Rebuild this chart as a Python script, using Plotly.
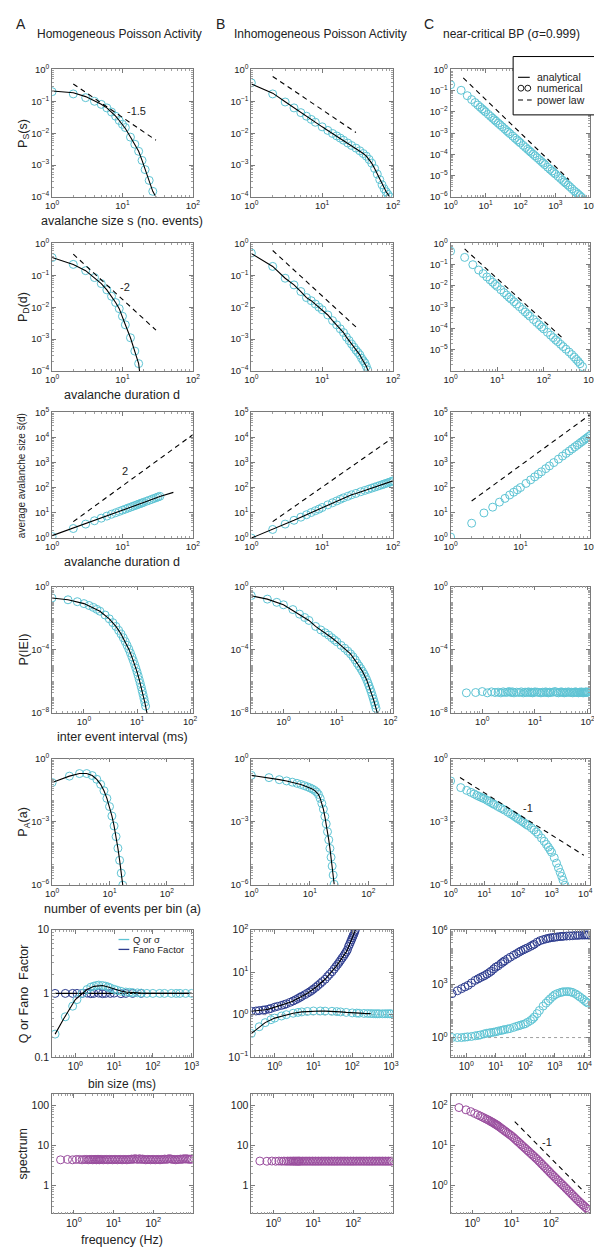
import math
import plotly.graph_objects as go

# ===================== DATA =====================
# ---- Row 1: avalanche size distribution P_S(s)
s_hom = [1, 2, 3, 4, 5, 6, 7, 8, 9, 10, 11, 13, 15, 17, 19, 21, 24, 27]
ps_hom = [0.2, 0.17, 0.13, 0.1, 0.08, 0.062, 0.046, 0.034, 0.025, 0.019, 0.015, 0.0075, 0.0045, 0.0027, 0.0014, 0.00072, 0.00033, 0.00015]
s_hom_fit = [1, 2, 3, 4, 5, 6, 7, 8, 9, 10, 11, 13, 15, 17, 19, 21, 24, 27, 30]
ps_hom_fit = [0.21, 0.185, 0.14, 0.105, 0.081, 0.062, 0.046, 0.034, 0.025, 0.019, 0.014, 0.0076, 0.0045, 0.0027, 0.0014, 0.00072, 0.00033, 0.00015, 0.0001]
s_hom_pl = [2, 30]
ps_hom_pl = [0.35, 0.006]

s_inh = [1, 2, 3, 4, 5, 6, 7, 8, 10, 12, 14, 16, 18, 20, 23, 26, 30, 34, 38, 42, 46, 50, 55, 60, 65, 70, 75, 80, 85, 90]
ps_inh = [0.38, 0.17, 0.095, 0.062, 0.044, 0.034, 0.027, 0.022, 0.0158, 0.0122, 0.0098, 0.0082, 0.007, 0.006, 0.0049, 0.0041, 0.0034, 0.0028, 0.0023, 0.0019, 0.0015, 0.00115, 0.00078, 0.00052, 0.00035, 0.00024, 0.00018, 0.000145, 0.00012, 0.0001]
ps_inh_fit = [0.35, 0.18, 0.097, 0.062, 0.044, 0.034, 0.027, 0.022, 0.0158, 0.0122, 0.0098, 0.0082, 0.007, 0.006, 0.0049, 0.0041, 0.0034, 0.0028, 0.0023, 0.0019, 0.0015, 0.00115, 0.00078, 0.00052, 0.00035, 0.00024, 0.00018, 0.000145, 0.00012, 0.0001]
s_inh_pl = [2, 30]
ps_inh_pl = [0.6, 0.0105]

s_bp = [1, 2, 3, 4, 5, 6, 7, 8, 9, 10, 12, 14, 16, 18, 20, 23, 26, 30, 35, 40, 45, 50, 60, 70, 80, 90, 100, 120, 140, 160, 180, 200, 230, 260, 300, 350, 400, 450, 500, 600, 700, 800, 900, 1000, 1200, 1400, 1600, 1800, 2000, 2300, 2600, 3000, 3500, 4000, 4500, 5000, 5700]
ps_bp = [0.19, 0.104, 0.058, 0.038, 0.0275, 0.0211, 0.0168, 0.0138, 0.0117, 0.01, 0.00766, 0.00612, 0.00504, 0.00424, 0.00363, 0.00296, 0.00248, 0.00201, 0.00161, 0.00132, 0.00111, 0.00095, 0.00073, 0.00058, 0.00048, 0.000405, 0.000347, 0.000265, 0.000212, 0.000175, 0.000147, 0.000126, 0.000103, 8.6e-5, 7.0e-5, 5.6e-5, 4.6e-5, 3.9e-5, 3.3e-5, 2.5e-5, 2.0e-5, 1.66e-5, 1.4e-5, 1.2e-5, 9.2e-6, 7.4e-6, 6.1e-6, 5.1e-6, 4.4e-6, 3.6e-6, 3.0e-6, 2.4e-6, 1.9e-6, 1.6e-6, 1.34e-6, 1.15e-6, 0.95e-6]
s_bp_pl = [2.3, 2450]
ps_bp_pl = [0.4, 6.5e-6]

# ---- Row 2: avalanche duration distribution P_D(d)
d_hom = [1, 2, 3, 4, 5, 6, 7, 8, 9, 10, 11, 13, 15, 17]
pd_hom = [0.36, 0.22, 0.14, 0.085, 0.055, 0.035, 0.022, 0.014, 0.009, 0.0052, 0.0028, 0.0011, 0.00042, 0.00017]
d_hom_fit = [1, 2, 3, 4, 5, 6, 7, 8, 9, 10, 11, 13, 15, 17, 17.5]
pd_hom_fit = [0.36, 0.22, 0.14, 0.085, 0.055, 0.035, 0.022, 0.014, 0.009, 0.0052, 0.0028, 0.0011, 0.00042, 0.00017, 0.0001]
d_hom_pl = [2, 30]
pd_hom_pl = [0.46, 0.0019]

d_inh = [1, 2, 3, 4, 5, 6, 7, 8, 9, 10, 12, 14, 16, 18, 20, 22, 24, 26, 28, 30, 32, 34, 36, 38, 40, 42, 44]
pd_inh = [0.5, 0.19, 0.081, 0.05, 0.031, 0.02, 0.016, 0.0126, 0.01, 0.0083, 0.0057, 0.0038, 0.0028, 0.0021, 0.0016, 0.00115, 0.0009, 0.0007, 0.00056, 0.00045, 0.00038, 0.00032, 0.00025, 0.00021, 0.00018, 0.00014, 0.000107]
d_inh_fit = [1, 2, 3, 4, 5, 6, 7, 8, 9, 10, 12, 14, 16, 18, 20, 22, 24, 26, 28, 30, 32, 34, 36, 38, 40, 42, 44, 45]
pd_inh_fit = [0.48, 0.19, 0.081, 0.05, 0.031, 0.02, 0.016, 0.0126, 0.01, 0.0083, 0.0057, 0.0038, 0.0028, 0.0021, 0.0016, 0.00115, 0.0009, 0.0007, 0.00056, 0.00045, 0.00038, 0.00032, 0.00025, 0.00021, 0.00018, 0.00014, 0.000107, 0.0001]
d_inh_pl = [2, 30]
pd_inh_pl = [0.6, 0.0024]

d_bp = [1, 2, 3, 4, 5, 6, 7, 8, 9, 10, 12, 14, 16, 18, 20, 23, 26, 30, 35, 40, 45, 50, 60, 70, 80, 90, 100, 120, 140, 160, 180, 200, 230, 260, 300, 350, 400, 450, 500, 550, 600, 680]
pd_bp = [0.43, 0.22, 0.1, 0.056, 0.038, 0.0264, 0.0194, 0.0149, 0.0117, 0.0095, 0.0066, 0.00485, 0.0037, 0.0029, 0.00238, 0.0018, 0.0014, 0.00106, 0.00078, 0.00059, 0.00047, 0.00038, 0.000264, 0.000194, 0.000149, 0.000117, 9.5e-5, 6.6e-5, 4.85e-5, 3.7e-5, 2.9e-5, 2.4e-5, 1.8e-5, 1.4e-5, 1.06e-5, 7.8e-6, 5.9e-6, 4.5e-6, 3.5e-6, 2.8e-6, 2.2e-6, 1.6e-6]
d_bp_pl = [2, 275]
pd_bp_pl = [0.55, 3.0e-5]

# ---- Row 3: average avalanche size vs duration
d3_hom = [1, 2, 3, 4, 5, 6, 7, 8, 9, 10, 11, 12, 13, 14, 15, 16, 17, 18, 19, 20, 22, 24, 26, 28, 30, 32, 34]
sd_hom = [1.15, 2.4, 3.6, 4.9, 6.2, 7.5, 8.9, 10.2, 11.5, 12.9, 14.2, 15.6, 16.9, 18.3, 19.6, 21.0, 22.4, 23.7, 25.1, 26.5, 29.3, 32.0, 34.8, 37.6, 40.4, 43.2, 46.0]
d3_hom_fit = [1, 2, 5, 10, 20, 34, 53]
sd_hom_fit = [1.25, 2.5, 6.1, 12.6, 26, 45, 66]
d3_hom_pl = [2, 100]
sd_hom_pl = [4.5, 13000]

d3_inh = [1, 2, 3, 4, 5, 6, 7, 8, 9, 10, 12, 14, 16, 18, 20, 23, 26, 30, 35, 40, 45, 50, 55, 60, 65, 70, 75, 80, 85, 90, 95, 100]
sd_inh = [1.0, 2.2, 3.6, 5.1, 6.8, 8.5, 10.4, 12.3, 14.2, 16.5, 21, 25.5, 30, 35, 40, 46, 53, 60, 70, 79, 88, 97, 106, 115, 124, 133, 142, 151, 160, 169, 178, 190]
d3_inh_pl = [2, 100]
sd_inh_pl = [4.5, 10000]

d3_bp = [1, 2, 3, 4, 5, 6, 7, 8, 9, 10, 12, 14, 16, 18, 20, 23, 26, 30, 35, 40, 45, 50, 55, 60, 65, 70, 75, 80, 85, 90, 95, 100]
sd_bp = [1.1, 3.9, 10, 17, 27, 38, 52, 67, 84, 103, 150, 208, 274, 350, 436, 582, 749, 1013, 1395, 1844, 2350, 2930, 3570, 4270, 5040, 5880, 6780, 7750, 8790, 9890, 11060, 12300]
d3_bp_pl = [2, 100]
sd_bp_pl = [30, 83000]

# ---- Row 4: inter event interval distribution
iei_hom = [0.25, 0.5, 0.75, 1, 1.25, 1.5, 1.75, 2, 2.5, 3, 3.5, 4, 4.5, 5, 5.5, 6, 6.5, 7, 7.5, 8, 8.5, 9, 9.5, 10, 10.5, 11, 11.5, 12, 12.5, 13, 13.5, 14, 14.5]
piei_hom = [0.19, 0.145, 0.11, 0.083, 0.063, 0.048, 0.036, 0.0275, 0.0158, 0.0091, 0.0052, 0.003, 0.0017, 0.001, 5.8e-4, 3.3e-4, 1.9e-4, 1.1e-4, 6.3e-5, 3.6e-5, 2.1e-5, 1.2e-5, 6.9e-6, 4.0e-6, 2.3e-6, 1.3e-6, 7.6e-7, 4.4e-7, 2.5e-7, 1.45e-7, 8.3e-8, 4.8e-8, 2.75e-8]
iei_hom_fit = [0.25, 0.5, 1, 2, 3, 4, 5, 6, 7, 8, 9, 10, 11, 12, 13, 14, 15.4]
piei_hom_fit = [0.19, 0.145, 0.083, 0.0275, 0.0091, 0.003, 0.001, 3.3e-4, 1.1e-4, 3.6e-5, 1.2e-5, 4.0e-6, 1.3e-6, 4.4e-7, 1.45e-7, 4.8e-8, 1e-8]

iei_inh = [0.25, 0.5, 0.75, 1, 1.5, 2, 2.5, 3, 4, 5, 6, 7, 8, 9, 10, 12, 14, 16, 18, 20, 22, 24, 26, 28, 30, 32, 34, 36, 38, 40, 42, 44, 46, 48, 50, 52, 54]
piei_inh = [0.27, 0.16, 0.1, 0.07, 0.035, 0.018, 0.011, 0.0072, 0.003, 0.0018, 0.0012, 0.00085, 0.00058, 0.00042, 0.00032, 0.00019, 0.000125, 8.2e-5, 5.5e-5, 3.6e-5, 2.3e-5, 1.4e-5, 9.5e-6, 6.5e-6, 4.4e-6, 3.0e-6, 2.0e-6, 1.3e-6, 8.2e-7, 5.2e-7, 3.3e-7, 2.1e-7, 1.3e-7, 8e-8, 5e-8, 3.2e-8, 2e-8]
iei_inh_fit = [0.25, 0.5, 1, 2, 3, 4, 6, 8, 10, 14, 18, 24, 30, 36, 42, 48, 54, 57]
piei_inh_fit = [0.26, 0.16, 0.07, 0.018, 0.0072, 0.003, 0.0012, 0.00058, 0.00032, 0.000125, 5.5e-5, 1.4e-5, 4.4e-6, 1.3e-6, 3.3e-7, 8e-8, 2e-8, 1e-8]

iei_bp = [0.5, 0.75, 1, 1.25, 1.5, 1.75, 2, 2.25, 2.5, 2.75, 3, 3.25, 3.5, 3.75, 4, 4.5, 5, 5.5, 6, 6.5, 7, 7.5, 8, 8.5, 9, 9.5, 10, 11, 12, 13, 14, 15, 16, 17, 18, 19, 20, 22, 24, 26, 28, 30, 32, 34, 36, 38, 40, 43, 46, 49, 52, 55, 58, 61, 64, 67, 70, 73, 76, 79, 82, 85, 88, 91, 94, 97, 100]
piei_bp = [1.9e-7, 2.0e-7, 2.3e-7, 1.9e-7, 2.2e-7, 2.0e-7, 2.1e-7, 1.9e-7, 2.2e-7, 2.0e-7, 2.1e-7, 2.3e-7, 2.0e-7, 2.2e-7, 1.9e-7, 2.1e-7, 2.0e-7, 2.2e-7, 1.9e-7, 2.1e-7, 2.0e-7, 2.2e-7, 2.0e-7, 2.1e-7, 1.9e-7, 2.0e-7, 2.2e-7,
           2.1e-7, 2.0e-7, 1.9e-7, 2.1e-7, 2.0e-7, 2.2e-7, 2.0e-7, 1.9e-7, 2.1e-7, 2.0e-7, 2.1e-7, 2.3e-7, 2.0e-7, 1.9e-7, 2.1e-7, 2.2e-7, 2.0e-7, 1.9e-7, 2.1e-7, 2.0e-7, 2.2e-7, 2.0e-7, 2.1e-7, 1.9e-7, 2.0e-7, 2.2e-7, 2.1e-7, 2.0e-7, 1.9e-7, 2.1e-7, 2.0e-7, 2.2e-7, 2.0e-7, 1.9e-7, 2.1e-7, 2.0e-7, 2.1e-7, 2.2e-7, 2.0e-7, 2.1e-7]

# ---- Row 5: number of events per bin P_A(a)
a_hom = [1, 2, 3, 4, 5, 6, 7, 8, 9, 10, 11, 12, 13, 14, 15, 16, 17]
pa_hom = [0.073, 0.147, 0.195, 0.195, 0.156, 0.104, 0.06, 0.03, 0.013, 0.0053, 0.0019, 6.4e-4, 2.0e-4, 5.6e-5, 1.5e-5, 3.7e-6, 1.0e-6]

a_inh = [1, 2, 3, 4, 5, 6, 7, 8, 9, 10, 11, 12, 13, 14, 15, 16, 17, 18, 19, 20, 21, 22, 23, 24, 25, 26]
pa_inh = [0.16, 0.125, 0.1, 0.087, 0.076, 0.067, 0.059, 0.052, 0.046, 0.041, 0.036, 0.031, 0.026, 0.02, 0.013, 0.0075, 0.004, 0.0018, 8e-4, 3.4e-4, 1.4e-4, 5.5e-5, 2.1e-5, 8e-6, 3e-6, 1.1e-6]

a_bp = [1, 2, 3, 4, 5, 6, 7, 8, 9, 10, 12, 14, 16, 18, 20, 25, 30, 35, 40, 50, 60, 70, 80, 90, 100, 120, 140, 160, 180, 200, 250, 300, 350, 400, 500, 600, 700, 800, 900, 1000, 1200, 1400, 1600, 1800, 2000, 2200, 2500]
pa_bp = [0.087, 0.042, 0.031, 0.025, 0.021, 0.018, 0.016, 0.0145, 0.0135, 0.0125, 0.0106, 0.0092, 0.0082, 0.0073, 0.0066, 0.0054, 0.0046, 0.0041, 0.0036, 0.0029, 0.0024, 0.0021, 0.0018, 0.0016, 0.0014, 0.00116, 0.00099, 0.00085, 0.00075, 0.00067, 0.00052, 0.00041, 0.00033, 0.00026, 0.00017, 0.00012, 8.5e-5, 6.3e-5, 4.7e-5, 3.6e-5, 2.0e-5, 1.1e-5, 6.5e-6, 4.0e-6, 2.6e-6, 1.7e-6, 1.0e-6]
a_bp_pl = [1.9, 9100]
pa_bp_pl = [0.126, 2.6e-5]

# ---- Row 6: Q (or sigma) and Fano factor vs bin size
T_hom_q = [0.3, 0.55, 0.85, 1.1, 1.5, 2, 2.5, 3, 3.5, 4, 5, 6, 7, 8, 10, 12, 15, 20, 25, 30, 40, 50, 70, 100, 150, 200, 300, 400, 500, 700, 1000]
q_hom = [0.23, 0.43, 0.63, 0.8, 1.0, 1.15, 1.25, 1.3, 1.33, 1.35, 1.33, 1.3, 1.26, 1.22, 1.16, 1.12, 1.08, 1.05, 1.04, 1.03, 1.02, 1.01, 1.0, 1.0, 1.0, 1.0, 1.0, 1.0, 1.0, 1.0, 1.0]
T_hom_q_fit = [0.3, 0.5, 1, 2, 3, 4, 5, 7, 10, 15, 20, 30, 50, 100, 1000]
q_hom_fit = [0.23, 0.4, 0.8, 1.15, 1.29, 1.33, 1.33, 1.26, 1.17, 1.09, 1.05, 1.03, 1.01, 1.0, 1.0]
T_hom_f = [0.3, 0.55, 0.85, 1.1, 1.5, 2, 2.5, 3, 4, 5, 6, 8, 10, 15, 20, 30, 50]
fano_hom = [1.0, 1.0, 1.0, 1.0, 1.0, 1.01, 0.99, 1.0, 1.01, 0.99, 1.0, 1.0, 1.01, 0.99, 1.0, 1.0, 1.0]
T_hom_f_fit = [0.3, 1000]
fano_hom_fit = [1.0, 1.0]

T_inh_q = [0.25, 0.4, 0.57, 0.8, 1, 1.5, 2, 3, 4, 5, 7, 10, 15, 20, 30, 40, 50, 70, 100, 130, 150, 200, 250, 300, 350, 400, 450, 500, 600, 700, 800, 900, 1000]
q_inh = [0.36, 0.52, 0.65, 0.76, 0.83, 0.93, 1.0, 1.08, 1.13, 1.16, 1.19, 1.22, 1.22, 1.21, 1.2, 1.18, 1.16, 1.13, 1.1, 1.09, 1.08, 1.07, 1.065, 1.06, 1.055, 1.05, 1.05, 1.05, 1.05, 1.05, 1.05, 1.05, 1.05]
T_inh_q_fit = [0.25, 0.57, 1, 2, 3, 5, 7, 10, 15, 20, 30, 50, 70, 100, 150, 200, 300]
q_inh_fit = [0.36, 0.65, 0.83, 1.0, 1.08, 1.16, 1.19, 1.22, 1.22, 1.21, 1.2, 1.16, 1.13, 1.1, 1.08, 1.07, 1.06]
T_inh_f = [0.25, 0.33, 0.4, 0.5, 0.57, 0.7, 0.8, 1, 1.2, 1.5, 1.75, 2, 2.5, 3, 3.5, 4, 4.5, 5, 6, 7, 8, 9, 10, 11.5, 13, 15, 17, 20, 23, 26, 30, 34, 38, 42, 46, 50, 55, 60, 65, 70, 75, 80, 85, 90, 95, 100, 105, 110, 115, 120]
fano_inh = [1.2, 1.22, 1.25, 1.28, 1.3, 1.35, 1.4, 1.5, 1.57, 1.65, 1.72, 1.8, 1.95, 2.1, 2.25, 2.4, 2.55, 2.7, 2.95, 3.2, 3.45, 3.7, 4.0, 4.4, 4.85, 5.4, 6.0, 6.8, 7.9, 8.9, 10.2, 11.8, 13.5, 15.2, 17, 19, 21.5, 24, 27, 30, 33.5, 40, 45, 51, 57, 64, 71, 79, 88, 97]

T_bp_f = [0.33, 0.5, 0.69, 0.9, 1.15, 1.5, 2, 2.5, 3, 3.6, 4.2, 5, 6, 7, 8.5, 10, 12, 15, 17.5, 20, 25, 31, 40, 50, 60, 70, 85, 100, 120, 150, 175, 200, 250, 316, 400, 500, 600, 700, 850, 1000, 1200, 1500, 1750, 2000, 2500, 3160, 4000, 5000, 6000, 7000, 8500, 10000, 11500, 13000]
fano_bp = [290, 420, 550, 690, 840, 1150, 1600, 1950, 2300, 2650, 3000, 3600, 4400, 5300, 7000, 8900, 10500, 14000, 17000, 20000, 25500, 32000, 41000, 50000, 60000, 70000, 82000, 94000, 108000, 130000, 150000, 170000, 220000, 270000, 305000, 340000, 365000, 390000, 405000, 420000, 440000, 460000, 470000, 480000, 490000, 500000, 515000, 530000, 540000, 550000, 555000, 560000, 565000, 570000]
T_bp_q = [0.33, 0.5, 0.69, 0.9, 1.1, 1.5, 2, 2.5, 3, 4, 5, 6, 7, 8.5, 10, 12, 15, 17.5, 20, 25, 30, 40, 50, 60, 70, 85, 100, 120, 150, 175, 200, 250, 300, 400, 500, 600, 700, 850, 1000, 1200, 1500, 1750, 2000, 2500, 3000, 3500, 4000, 5000, 6000, 7000, 8500, 10000, 11500, 13000]
q_bp = [1.0, 1.0, 1.0, 1.05, 1.1, 1.15, 1.25, 1.32, 1.4, 1.6, 1.75, 1.82, 1.9, 2.0, 2.1, 2.3, 2.5, 2.65, 2.8, 3.0, 3.2, 3.7, 4.2, 4.6, 5.0, 5.5, 6.0, 7.2, 9.0, 11, 14, 22, 33, 58, 85, 115, 150, 200, 250, 290, 330, 355, 370, 380, 372, 355, 335, 280, 230, 190, 150, 120, 100, 87]

ref_inh_x = [0.25, 1000]
ref_bp_x = [0.33, 16000]
ref_y = [1, 1]

# ---- Row 7: power spectrum
f_spec = [0.46, 0.69, 0.92, 1.15, 1.38, 1.61, 1.84, 2.07, 2.3, 2.53, 2.76, 2.99, 3.22, 3.45, 3.68, 3.91, 4.14, 4.37, 4.6,
          5, 5.5, 6, 6.6, 7.2, 7.9, 8.7, 9.5, 10.4, 11.4, 12.5, 13.7, 15, 16.5, 18, 19.8, 21.7, 23.8, 26, 28.5, 31.3, 34.3, 37.6, 41.2,
          45.2, 49.5, 54.3, 59.5, 65.2, 71.5, 78.4, 86, 94, 103, 113, 124, 136, 149, 163, 179, 196, 215, 236, 258, 283, 310, 340, 373,
          409, 448, 491, 538, 590, 647, 709, 777, 852, 934]
spec_hom = [4.4, 4.5, 4.4, 4.5, 4.5, 4.4, 4.5, 4.5, 4.4, 4.5, 4.5, 4.4, 4.5, 4.5, 4.4, 4.5, 4.5, 4.4, 4.5,
            4.5, 4.4, 4.5, 4.5, 4.4, 4.5, 4.5, 4.4, 4.5, 4.5, 4.4, 4.5, 4.5, 4.4, 4.5, 4.5, 4.4, 4.5, 4.5, 4.6, 4.5, 4.7, 4.6, 4.5,
            4.7, 4.5, 4.6, 4.5, 4.4, 4.5, 4.5, 4.4, 4.5, 4.5, 4.4, 4.5, 4.5, 4.4, 4.5, 4.5, 4.6, 4.5, 4.6, 4.7, 4.6, 4.5, 4.5, 4.4,
            4.5, 4.5, 4.6, 4.5, 4.7, 4.6, 4.7, 4.5, 4.6, 4.5]
spec_inh = [4.1, 4.05, 4.1, 4.05, 4.1, 4.05, 4.1, 4.05, 4.1, 4.05, 4.1, 4.05, 4.1, 4.05, 4.1, 4.05, 4.1, 4.05, 4.1,
            4.05, 4.1, 4.05, 4.1, 4.05, 4.1, 4.05, 4.1, 4.05, 4.1, 4.05, 4.1, 4.05, 4.1, 4.05, 4.1, 4.05, 4.1, 4.05, 4.1, 4.05, 4.1, 4.05, 4.1,
            4.05, 4.1, 4.05, 4.1, 4.05, 4.1, 4.05, 4.1, 4.05, 4.1, 4.05, 4.1, 4.05, 4.1, 4.05, 4.1, 4.05, 4.1, 4.05, 4.1, 4.05, 4.1, 4.05, 4.1,
            4.05, 4.1, 4.05, 4.1, 4.05, 4.1, 4.05, 4.1, 4.05, 4.1]
spec_bp = [90, 79, 71, 64, 59, 55, 51.5, 48.5, 46, 44, 42, 40, 38.5, 37, 35.5, 34.3, 33, 32, 30.8,
           29.0, 27.0, 25.4, 23.6, 22.2, 20.7, 19.3, 18.1, 16.9, 15.6, 14.3, 13.2, 12.2, 11.2, 10.3, 9.46, 8.73, 8.01, 7.40, 6.81, 6.25, 5.76, 5.30, 4.87,
           4.48, 4.08, 3.72, 3.39, 3.09, 2.82, 2.57, 2.34, 2.14, 1.94, 1.78, 1.63, 1.48, 1.36, 1.245, 1.137, 1.042, 0.953, 0.867, 0.793, 0.723, 0.661, 0.603, 0.548,
           0.500, 0.457, 0.417, 0.384, 0.353, 0.325, 0.299, 0.276, 0.254, 0.234]
f_bp_pl = [12, 730]
spec_bp_pl = [40, 0.66]

# labels
col_titles = ["Homogeneous Poisson Activity", "Inhomogeneous Poisson Activity", "near-critical BP (\u03c3=0.999)"]
panel_letters = ["A", "B", "C"]
y_titles = ["P<sub>S</sub>(s)", "P<sub>D</sub>(d)", "average avalanche size s\u0304(d)", "P(IEI)",
            "P<sub>A</sub>(a)", "Q or Fano\u00a0\u00a0Factor", "spectrum"]
x_titles = ["avalanche size s (no. events)", "avalanche duration d", "avalanche duration d",
            "inter event interval (ms)", "number of events per bin (a)", "bin size (ms)", "frequency (Hz)"]

# ===================== STYLE / LAYOUT =====================
W, H = 602, 1247
FONT = "Liberation Sans, Arial, sans-serif"
CYAN = "#5EC4D4"
NAVY = "#2D3C8E"
PURPLE = "#9A4E9E"
AXC = "#7a7a7a"
MINC = "#a0a0a0"
TXT = "#222222"

COLS = [(38, 182), (242, 387), (446, 589)]
ROWS = [(54, 183), (230, 359), (401, 528), (577, 705), (751, 879), (924, 1053), (1090, 1211)]


def px(x):
    return x / W


def py(y):
    return 1 - y / H


def pw(e):
    return "10<sup>%s</sup>" % ("\u2212%d" % -e if e < 0 else "%d" % e)


fig = go.Figure()
layout = dict(width=W, height=H, margin=dict(l=0, r=0, t=0, b=0),
              paper_bgcolor="white", plot_bgcolor="white", showlegend=False,
              font=dict(family=FONT, color=TXT))
annotations = []
shapes = []


def exps(lo, hi, step=1):
    return list(range(lo, hi + 1, step))


def make_axis(r, c, xr, yr, xt, yt, xtt=None, ytt=None, tsize=9.5, xtsize=None):
    n = r * 3 + c + 1
    x0, x1 = COLS[c]
    y0, y1 = ROWS[r]
    common = dict(type="log", showline=True, linecolor=AXC, linewidth=0.8, mirror="allticks",
                  ticks="inside", ticklen=4, tickwidth=0.8, tickcolor=AXC,
                  showgrid=False, zeroline=False,
                  minor=dict(ticks="inside", ticklen=2, tickwidth=0.5, tickcolor=MINC, showgrid=False,
                             tickmode="linear", dtick="D1"),
                  tickfont=dict(family=FONT, size=tsize, color=TXT), tickmode="array")
    xa = dict(common, domain=[px(x0), px(x1)], range=xr, anchor="y%d" % n,
              tickvals=[10 ** e for e in xt], ticktext=xtt or [pw(e) for e in xt],
              tickfont=dict(family=FONT, size=xtsize or tsize, color=TXT))
    ya = dict(common, domain=[py(y1), py(y0)], range=yr, anchor="x%d" % n,
              tickvals=[10 ** e for e in yt], ticktext=ytt or [pw(e) for e in yt])
    layout["xaxis%d" % n] = xa
    layout["yaxis%d" % n] = ya
    return n


def circles(n, x, y, color=CYAN, size=8):
    fig.add_trace(go.Scatter(x=x, y=y, mode="markers", xaxis="x%d" % n, yaxis="y%d" % n,
                             marker=dict(symbol="circle-open", size=size, color=color,
                                         line=dict(width=1, color=color)),
                             cliponaxis=True))


def line(n, x, y, color="black", dash="solid", width=1.1):
    fig.add_trace(go.Scatter(x=x, y=y, mode="lines", xaxis="x%d" % n, yaxis="y%d" % n,
                             line=dict(color=color, width=width, dash=dash)))


def label(n, x, y, text, size=11):
    annotations.append(dict(x=math.log10(x), y=math.log10(y), xref="x%d" % n, yref="y%d" % n,
                            text=text, showarrow=False, xanchor="center", yanchor="middle",
                            font=dict(family=FONT, size=size, color=TXT)))


def ptext(x, y, text, size, xanchor="center", angle=0):
    annotations.append(dict(x=px(x), y=py(y), xref="paper", yref="paper", text=text, showarrow=False,
                            xanchor=xanchor, yanchor="middle", textangle=angle,
                            font=dict(family=FONT, size=size, color=TXT)))


DASH = "5px,4px"

# Row 1
n = make_axis(0, 0, [0, 2], [-4, 0], exps(0, 2), exps(-4, 0))
circles(n, s_hom, ps_hom); line(n, s_hom_fit, ps_hom_fit); line(n, s_hom_pl, ps_hom_pl, dash=DASH)
label(n, 16, 0.05, "-1.5")
n = make_axis(0, 1, [0, 2], [-4, 0], exps(0, 2), exps(-4, 0))
circles(n, s_inh, ps_inh); line(n, s_inh, ps_inh_fit); line(n, s_inh_pl, ps_inh_pl, dash=DASH)
n = make_axis(0, 2, [0, 4], [-6, 0], exps(0, 4), exps(-6, 0))
circles(n, s_bp, ps_bp); line(n, s_bp_pl, ps_bp_pl, dash=DASH)

# Row 2
n = make_axis(1, 0, [0, 2], [-4, 0], exps(0, 2), exps(-4, 0))
circles(n, d_hom, pd_hom); line(n, d_hom_fit, pd_hom_fit); line(n, d_hom_pl, pd_hom_pl, dash=DASH)
label(n, 11, 0.042, "-2")
n = make_axis(1, 1, [0, 2], [-4, 0], exps(0, 2), exps(-4, 0))
circles(n, d_inh, pd_inh); line(n, d_inh_fit, pd_inh_fit); line(n, d_inh_pl, pd_inh_pl, dash=DASH)
n = make_axis(1, 2, [0, 3], [-6, 0], exps(0, 3), exps(-5, 0))
circles(n, d_bp, pd_bp); line(n, d_bp_pl, pd_bp_pl, dash=DASH)

# Row 3
n = make_axis(2, 0, [0, 2], [0, 5], exps(0, 2), exps(0, 5))
circles(n, d3_hom, sd_hom); line(n, d3_hom_fit, sd_hom_fit); line(n, d3_hom_pl, sd_hom_pl, dash=DASH)
label(n, 11, 450, "2")
n = make_axis(2, 1, [0, 2], [0, 5], exps(0, 2), exps(0, 5))
circles(n, d3_inh, sd_inh); line(n, d3_inh, sd_inh); line(n, d3_inh_pl, sd_inh_pl, dash=DASH)
n = make_axis(2, 2, [0, 2], [0, 5], exps(0, 2), exps(0, 5))
circles(n, d3_bp, sd_bp); line(n, d3_bp_pl, sd_bp_pl, dash=DASH)

# Row 4
n = make_axis(3, 0, [-0.6, 2.05], [-8, 0], exps(0, 2), [-8, -4, 0])
circles(n, iei_hom, piei_hom); line(n, iei_hom_fit, piei_hom_fit)
n = make_axis(3, 1, [-0.6, 2.05], [-8, 0], exps(0, 2), [-8, -4, 0])
circles(n, iei_inh, piei_inh); line(n, iei_inh_fit, piei_inh_fit)
n = make_axis(3, 2, [-0.6, 2.05], [-8, 0], exps(0, 2), [-8, -4, 0])
circles(n, iei_bp, piei_bp)

# Row 5
n = make_axis(4, 0, [0, 2.45], [-6, 0], exps(0, 2), [-6, -3, 0])
circles(n, a_hom, pa_hom); line(n, a_hom, pa_hom)
n = make_axis(4, 1, [0, 2.42], [-6, 0], exps(0, 2), [-6, -3, 0])
circles(n, a_inh, pa_inh); line(n, a_inh, pa_inh)
n = make_axis(4, 2, [0, 4.15], [-6, 0], exps(0, 4), [-6, -3, 0])
circles(n, a_bp, pa_bp); line(n, a_bp_pl, pa_bp_pl, dash=DASH)
label(n, 200, 0.0045, "-1")

# Row 6
n = make_axis(5, 0, [-0.6, 3.03], [-1, 1], exps(0, 3), [-1, 0, 1], ytt=["0.1", "1", "10"], tsize=10.5, xtsize=10)
circles(n, T_hom_f, fano_hom, color=NAVY); line(n, T_hom_f_fit, fano_hom_fit)
circles(n, T_hom_q, q_hom); line(n, T_hom_q_fit, q_hom_fit)
n = make_axis(5, 1, [-0.6, 3.05], [-1, 2], exps(0, 3), exps(-1, 2), tsize=10.5, xtsize=10)
line(n, ref_inh_x, ref_y, color="#888888", dash="dot", width=0.8)
circles(n, T_inh_f, fano_inh, color=NAVY); line(n, T_inh_f, fano_inh)
circles(n, T_inh_q, q_inh); line(n, T_inh_q_fit, q_inh_fit)
n = make_axis(5, 2, [-0.53, 4.2], [-1.1, 6.05], exps(0, 4), [0, 3, 6], tsize=10.5, xtsize=10)
line(n, ref_bp_x, ref_y, color="#888888", dash="dot", width=0.8)
circles(n, T_bp_f, fano_bp, color=NAVY)
circles(n, T_bp_q, q_bp)

# Row 7
n = make_axis(6, 0, [-0.55, 3.0], [-0.7, 2.3], exps(0, 2), [0, 1, 2], ytt=["1", "10", "100"], tsize=10.5)
circles(n, f_spec, spec_hom, color=PURPLE)
n = make_axis(6, 1, [-0.55, 3.0], [-0.7, 2.3], exps(0, 2), [0, 1, 2], ytt=["1", "10", "100"], tsize=10.5)
circles(n, f_spec, spec_inh, color=PURPLE)
n = make_axis(6, 2, [-0.55, 3.0], [-0.7, 2.3], exps(0, 2), [0, 1, 2], tsize=10.5)
circles(n, f_spec, spec_bp, color=PURPLE); line(n, f_bp_pl, spec_bp_pl, dash=DASH)
label(n, 80, 12, "-1")

# ---- texts
for i, (t, L) in enumerate(zip(col_titles, panel_letters)):
    ptext([107, 313, 508][i], 18, t, 12)
    ptext([6, 210, 424][i], 8, L, 14)

ytx = [9, 9, 6, 9, 9, 10, 8]
for r, t in enumerate(y_titles):
    y0, y1 = ROWS[r]
    ptext(ytx[r], (y0 + y1) / 2, t, 10 if r == 2 else 12.5, angle=-90)
for r, t in enumerate(x_titles):
    y0, y1 = ROWS[r]
    ptext(110, y1 + (27 if r >= 5 else 24), t, 12 if r == 5 else 12.5)

# ---- legend (row 1, column C)
shapes.append(dict(type="rect", xref="paper", yref="paper", x0=px(510), x1=px(601), y0=py(100), y1=py(41),
                   line=dict(color="black", width=1), fillcolor="white", layer="above"))
shapes.append(dict(type="line", xref="paper", yref="paper", x0=px(515), x1=px(527), y0=py(62), y1=py(62),
                   line=dict(color="black", width=1.1), layer="above"))
for cxp in (518, 525):
    shapes.append(dict(type="circle", xref="paper", yref="paper", x0=px(cxp - 3), x1=px(cxp + 3),
                       y0=py(76), y1=py(70), line=dict(color="black", width=0.9), layer="above"))
shapes.append(dict(type="line", xref="paper", yref="paper", x0=px(515), x1=px(529), y0=py(85), y1=py(85),
                   line=dict(color="black", width=1.1, dash="5px,4px"), layer="above"))
for t, yy in (("analytical", 62), ("numerical", 73), ("power law", 85)):
    ptext(532, yy, t, 10.5, xanchor="left")

# ---- legend (row 6, column A)
for t, yy, col in (("Q or \u03c3", 934, CYAN), ("Fano Factor", 944, NAVY)):
    shapes.append(dict(type="line", xref="paper", yref="paper", x0=px(106), x1=px(117), y0=py(yy), y1=py(yy),
                       line=dict(color=col, width=1.3)))
    ptext(119, yy, t, 9.5, xanchor="left")

layout["annotations"] = annotations
layout["shapes"] = shapes
fig.update_layout(**layout)
fig.write_html("out.html")
